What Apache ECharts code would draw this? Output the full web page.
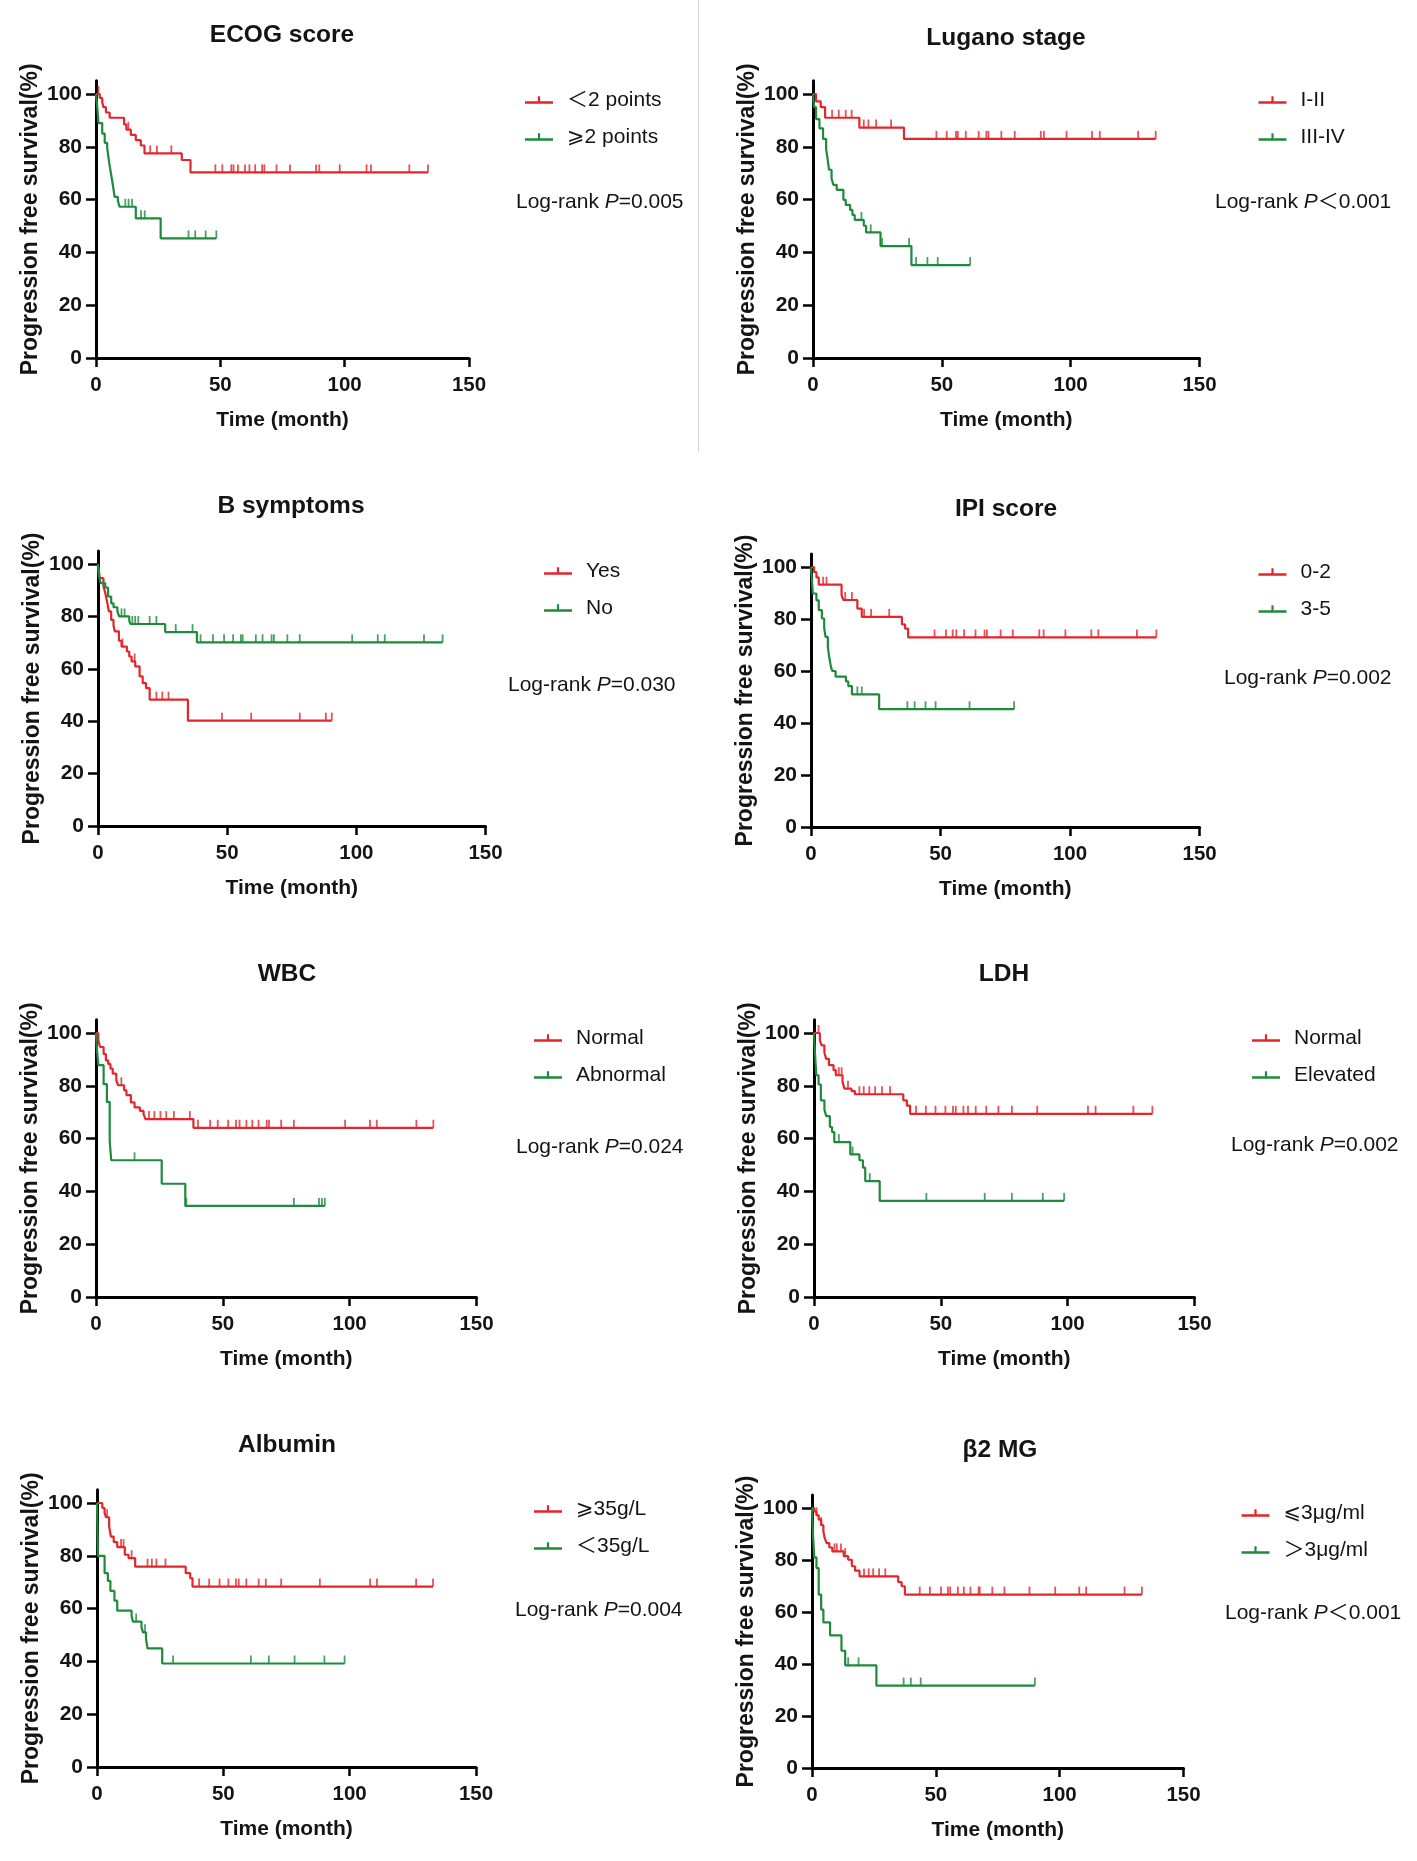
<!DOCTYPE html>
<html><head><meta charset="utf-8">
<script src="https://cdn.jsdelivr.net/npm/echarts@6/dist/echarts.min.js"></script>
<style>html,body{margin:0;padding:0;background:#fff}#c{width:1417px;height:1861px}</style>
</head><body><div id="c"></div>
<script>
// ---------- DATA ----------
const xTicks = [0, 50, 100, 150];
const yTicks = [0, 20, 40, 60, 80, 100];
const panelTitles = ['ECOG score', 'Lugano stage', 'B symptoms', 'IPI score', 'WBC', 'LDH', 'Albumin', 'β2 MG'];
const groupNames = [['＜2 points', '⩾2 points'], ['I-II', 'III-IV'], ['Yes', 'No'], ['0-2', '3-5'],
  ['Normal', 'Abnormal'], ['Normal', 'Elevated'], ['⩾35g/L', '＜35g/L'], ['⩽3μg/ml', '＞3μg/ml']];
const pValues = ['=0.005', '＜0.001', '=0.030', '=0.002', '=0.024', '=0.002', '=0.004', '＜0.001'];

// Kaplan-Meier curves: [time (month), survival %] at each event; censor times separately
const ecogRed = [[0,100],[1.5,98.5],[2.5,97],[3,95],[4,93],[5.5,91],[11.3,88.5],[12.2,86.5],[14,84.5],[16,82.5],[18,80.5],[19.5,77.5],[34.5,75],[38,70.3],[133.5,70.3]];
const ecogRedCens = [1,13,21.8,24.5,30.3,48,50.8,54.4,55.3,57.1,59.9,61.7,64,66.8,67.7,72.6,78,88.5,89.8,98,108.8,110.6,126,133.5];
const ecogGreen = [[0,100],[0.5,95],[1,89],[2.5,85],[3.5,81.5],[4.5,79.5],[5.3,74],[6,70],[6.7,66],[7.5,61],[8.8,59.5],[9.5,57.3],[16,52.9],[26,45.3],[48.4,45.3]];
const ecogGreenCens = [11.8,13.1,14.5,18.1,19.6,37.2,39.9,44.1,48.4];

const lugRed = [[0,100],[1.2,97.2],[3,95],[4.7,91],[18,87.3],[35.3,83],[133,83]];
const lugRedCens = [7.4,10,12.7,15,19.7,21.5,24.5,30.3,47.9,51.9,55.5,56.2,59.3,64.3,67.3,68.1,73.1,78.3,88.4,89.6,98.4,108.3,111.3,126.2,133];
const lugGreen = [[0,100],[0.4,95],[1.2,90.5],[2.5,87],[3.9,83],[5.1,79],[5.6,76],[6.2,71.3],[7.2,68],[7.9,65.6],[9.2,63.7],[11.8,59.9],[12.7,58],[14.4,56.1],[15.3,54.2],[16.2,52.3],[19.7,50.1],[20.6,47.6],[26.2,42.4],[38.2,35.2],[61,35.2]];
const lugGreenCens = [18.8,22.4,26.8,37.3,40,44.4,48.4,61];

const bRed = [[0,100],[0.7,94.6],[2.1,91.5],[2.8,89],[3.5,85.7],[4.2,81.9],[5.1,78.7],[6,76.5],[6.5,74.3],[8.1,70.7],[9.1,68.5],[11.2,66.6],[12.1,64.7],[13,62.8],[14.4,60.9],[16.1,57.1],[17.3,54.5],[18.6,52.6],[20,48.2],[34.8,40.2],[90.5,40.2]];
const bRedCens = [9.5,14.2,22.6,24.9,27.3,48,59.3,78.1,88.2,90.5];
const bGreen = [[0,100],[0.3,96],[1,92.7],[2.8,91],[3.9,87.6],[5.1,85],[6,83.5],[7.5,81.9],[8.2,80],[12.1,78.3],[12.6,77.1],[26,74],[38.3,70.1],[133.4,70.1]];
const bGreenCens = [9.1,10.3,13.3,14.4,15.6,20,22.6,30.1,36.6,39.7,44.5,48.8,52.3,55.3,56,61.1,63.7,67.2,68.1,73.3,78.1,98.4,108.3,111,126.2,133.4];

const ipiRed = [[0,100],[1.2,98],[2.1,96],[3,93.2],[11.8,89.1],[12.5,87.3],[17.9,84],[19.6,80.8],[35.1,77.9],[36.3,76.3],[37.5,72.9],[133.3,72.9]];
const ipiRedCens = [4.7,6,13.2,15.8,20.5,23.2,30.2,47.7,52.1,54.7,56.1,59.1,63.5,67,67.9,73.2,77.9,88.1,89.8,98.2,108.2,110.9,125.8,133.3];
const ipiGreen = [[0,100],[0.35,95],[0.7,89.8],[2.1,87.2],[3,83.4],[4.2,80.2],[5.1,76.5],[5.6,73.1],[6.5,69.3],[7,65.5],[7.7,61.6],[8.2,60],[9.5,57.8],[13.5,56],[14.4,54.2],[15.8,51],[26.3,45.3],[78.4,45.3]];
const ipiGreenCens = [17.9,19.6,37.2,40,44.2,48.1,61.2,78.4];

const wbcRed = [[0,100],[0.9,97.2],[1.6,94.7],[3,92],[3.9,89.6],[4.8,88.3],[5.7,86.5],[6.6,84.6],[8,82.1],[8.75,80.2],[11.1,78.3],[12,76.5],[13.75,73.7],[15.2,71.8],[17.3,70.5],[18.75,69.3],[19.5,67.4],[38.4,64.1],[133,64.1]];
const wbcRedCens = [10,20.9,23,25.4,27.7,30.7,37,40.2,45,48,52.1,55.2,56.6,59.3,61.6,64.1,67.3,68.2,73,78,98.2,108,110.7,126.3,133];
const wbcGreen = [[0,100],[0.35,94.1],[0.9,87.8],[3,80.6],[4.3,73.9],[5.4,59.1],[6,51.8],[25.9,42.9],[35.2,34.5],[90.2,34.5]];
const wbcGreenCens = [15.2,35.6,78,87.9,89.1,90.2];

const ldhRed = [[0,100],[2.3,97.2],[3,95.3],[4.1,92.5],[4.8,90.2],[5.9,87.8],[7.7,85.9],[8.6,84],[11.25,81.5],[12,78.9],[14.8,78],[16.1,76.8],[35.2,74.5],[36.6,72.5],[37.9,69.4],[133.4,69.4]];
const ldhRedCens = [1.8,9.8,10.9,13.4,17.9,19.6,21.8,24.1,26.8,30,40.2,44.1,47.9,51.8,54.8,55.9,58.9,60.7,63.75,67.9,72.7,78,88,108,111,125.9,133.4];
const ldhGreen = [[0,100],[0.35,93],[0.9,84],[1.8,80.5],[2.7,74.5],[4.1,71],[4.8,68.5],[6.25,64.4],[7.1,62.5],[8,58.7],[14.3,54],[17.9,51.8],[19.3,49],[20.2,43.9],[25.9,36.4],[98.6,36.4]];
const ldhGreenCens = [9.8,15.2,22,44.3,67.3,78,90.2,98.6];

const albRed = [[0,100],[2.1,98.1],[3,96.2],[3.6,94.6],[4.8,91.1],[5.5,87.3],[6.6,85.2],[8,83.3],[11,80.4],[12.5,79.1],[15.1,75.9],[35.1,73.4],[36.9,71.5],[37.8,68.35],[133,68.35]];
const albRedCens = [4,9.5,10.5,13.7,20,21.7,23.5,27.1,40.4,44.4,48.5,52,55,56.1,59.1,64,66.8,72.9,88.2,108.1,110.8,126.3,133];
const albGreen = [[0,100],[0.35,80],[3,73.4],[4.3,70.5],[5.3,66.7],[6.9,63],[8,59.2],[13.7,57.2],[14.2,55.1],[17.6,53],[18.2,51],[19.4,48.5],[20,44.9],[25.8,39.2],[98,39.2]];
const albGreenCens = [15.5,19,30.1,60.9,68,78.2,90,98];

const b2Red = [[0,100],[0.9,98.7],[1.8,97.2],[2.7,95.5],[3.7,93.4],[4.6,91],[5.1,88.5],[5.9,86.5],[7,84.8],[8.2,83.3],[12.8,81.5],[14.6,80.1],[16.1,77.6],[17.4,75.9],[19.2,73.7],[34.8,71.5],[36.2,69.9],[37.5,66.7],[133.2,66.7]];
const b2RedCens = [1.8,3.7,9.1,10,11.7,13.4,21,22.9,24.7,27.1,29.6,43.5,47.6,52.1,54.9,55.8,58.9,61.3,64,67.3,67.7,72.8,77.7,87.8,98.2,107.9,110.7,126.2,133.2];
const b2Green = [[0,100],[0.4,90],[0.9,81],[1.8,76.9],[2.7,66.7],[3.7,60.9],[4.6,56],[7.3,51],[11.9,45.1],[13.4,39.5],[26,31.7],[90,31.7]];
const b2GreenCens = [14.6,18.8,37,39.9,43.9,90];

const curves = [[ecogRed, ecogGreen], [lugRed, lugGreen], [bRed, bGreen], [ipiRed, ipiGreen],
  [wbcRed, wbcGreen], [ldhRed, ldhGreen], [albRed, albGreen], [b2Red, b2Green]];
const censors = [[ecogRedCens, ecogGreenCens], [lugRedCens, lugGreenCens], [bRedCens, bGreenCens], [ipiRedCens, ipiGreenCens],
  [wbcRedCens, wbcGreenCens], [ldhRedCens, ldhGreenCens], [albRedCens, albGreenCens], [b2RedCens, b2GreenCens]];

// ---------- LAYOUT (pixels) ----------
const layout = [
  {gl: 96,  gr: 469,    y100: 94,   y0: 358,  title: [282, 37],   leg: [525, 99],    lr: [516, 202]},
  {gl: 813, gr: 1199.5, y100: 94,   y0: 358,  title: [1006, 40],  leg: [1258.5, 99], lr: [1215, 202]},
  {gl: 98,  gr: 485.5,  y100: 564,  y0: 826,  title: [291, 508],  leg: [544, 570],   lr: [508, 685]},
  {gl: 811, gr: 1199.6, y100: 567,  y0: 827,  title: [1006, 511], leg: [1258.5, 571], lr: [1224, 678]},
  {gl: 96,  gr: 476.5,  y100: 1033, y0: 1297, title: [287, 976],  leg: [534, 1037],  lr: [516, 1147]},
  {gl: 814, gr: 1194.5, y100: 1033, y0: 1297, title: [1004, 976], leg: [1252, 1037], lr: [1231, 1145]},
  {gl: 97,  gr: 476,    y100: 1503, y0: 1767, title: [287, 1447], leg: [534, 1508],  lr: [515, 1610]},
  {gl: 812, gr: 1183.5, y100: 1508, y0: 1768, title: [1000, 1452], leg: [1241.5, 1512], lr: [1225, 1613]}
];
const F = 'Arial, "Liberation Sans", "DejaVu Sans", "Noto Sans CJK SC", sans-serif';
const RED = '#E3262C', GREEN = '#1E8A3C', TXT = '#141414';
const LEG_ICON = 'path://M0,5 L28,5 L28,7.5 L0,7.5 Z M12.9,0 L15.1,0 L15.1,6 L12.9,6 Z';

function survAt(c, t) { let s = c[0][1]; for (const p of c) { if (p[0] <= t) s = p[1]; else break; } return s; }

const grids = [], xAxes = [], yAxes = [], series = [], titles = [], legends = [], graphics = [];
layout.forEach((L, i) => {
  const span = L.y0 - L.y100;
  grids.push({left: L.gl, top: L.y0 - 1.05 * span, width: L.gr - L.gl, height: 1.05 * span});
  xAxes.push({gridIndex: i, type: 'value', min: 0, max: 150, interval: 50,
    name: 'Time (month)', nameLocation: 'middle', nameGap: 52,
    nameTextStyle: {fontSize: 21, fontWeight: 'bold', color: TXT, fontFamily: F},
    axisLine: {show: true, onZero: false, lineStyle: {color: '#000', width: 3}},
    axisTick: {show: true, length: 9, lineStyle: {color: '#000', width: 2.5}, customValues: xTicks},
    axisLabel: {fontSize: 20.5, fontWeight: 'bold', color: TXT, margin: 17, fontFamily: F, customValues: xTicks},
    splitLine: {show: false}});
  yAxes.push({gridIndex: i, type: 'value', min: 0, max: 105, interval: 20,
    name: 'Progression free survival(%)', nameLocation: 'middle', nameGap: 54,
    nameTextStyle: {fontSize: 23, fontWeight: 'bold', color: TXT, fontFamily: F},
    axisLine: {show: true, lineStyle: {color: '#000', width: 3}},
    axisTick: {show: true, length: 10, lineStyle: {color: '#000', width: 2.5}, customValues: yTicks},
    axisLabel: {fontSize: 21, fontWeight: 'bold', color: TXT, margin: 14, fontFamily: F, customValues: yTicks,
      formatter: v => (yTicks.indexOf(v) >= 0 ? String(v) : '')},
    splitLine: {show: false}});
  titles.push({text: panelTitles[i], left: L.title[0], top: L.title[1] - 14, textAlign: 'center', padding: 0,
    textStyle: {fontSize: 24.5, fontWeight: 'bold', color: TXT, fontFamily: F}});
  [0, 1].forEach(k => {
    const col = k === 0 ? RED : GREEN;
    const c = curves[i][k];
    series.push({type: 'line', name: groupNames[i][k], xAxisIndex: i, yAxisIndex: i, data: c, step: 'end',
      showSymbol: false, symbol: 'none', lineStyle: {color: col, width: 2.2}, itemStyle: {color: col},
      animation: false, silent: true, z: 3});
    series.push({type: 'scatter', name: 'cens' + i + '_' + k, xAxisIndex: i, yAxisIndex: i,
      data: censors[i][k].map(t => [t, survAt(c, t)]), symbol: 'rect', symbolSize: [1.8, 8], symbolOffset: [0, -4],
      itemStyle: {color: col}, animation: false, silent: true, z: 4});
  });
  legends.push({left: L.leg[0], top: L.leg[1] - 12, orient: 'vertical', padding: 0, itemGap: 11, itemWidth: 28, itemHeight: 7.5,
    icon: LEG_ICON, selectedMode: false, data: groupNames[i], itemStyle: {borderWidth: 0},
    textStyle: {fontSize: 21, fontFamily: F, color: TXT, padding: [4, 0, 0, 9], lineHeight: 22}});
  graphics.push({type: 'text', x: L.lr[0], y: L.lr[1],
    style: {text: '{a|Log-rank }{b|P}{a|' + pValues[i] + '}', verticalAlign: 'middle',
      rich: {a: {fontSize: 21, fontFamily: F, fill: TXT, color: TXT},
             b: {fontSize: 21, fontFamily: F, fontStyle: 'italic', fill: TXT, color: TXT}}}});
});
graphics.push({type: 'line', shape: {x1: 698.5, y1: 0, x2: 698.5, y2: 452}, style: {stroke: '#d4d4d4', lineWidth: 1}});

const chart = echarts.init(document.getElementById('c'), null, {renderer: 'canvas'});
chart.setOption({
  backgroundColor: '#fff', animation: false,
  title: titles, legend: legends, grid: grids, xAxis: xAxes, yAxis: yAxes, series: series, graphic: graphics
});
</script></body></html>
